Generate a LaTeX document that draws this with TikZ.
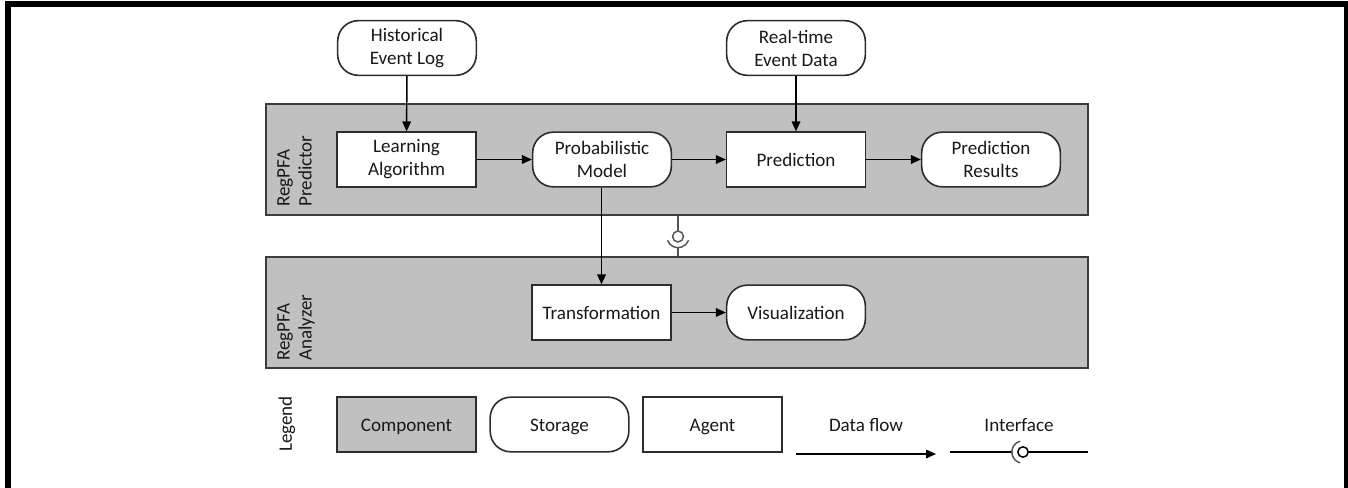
\documentclass[tikz,border=0pt]{standalone}
\usepackage{fontspec}
\setmainfont{Carlito}
\usetikzlibrary{arrows.meta,calc}
\definecolor{panelfill}{RGB}{192,192,192}
\definecolor{panelline}{RGB}{60,60,60}
\definecolor{boxline}{RGB}{45,45,45}
\definecolor{textc}{RGB}{25,25,25}
\definecolor{ifcol}{RGB}{85,85,85}
\newcommand\oneln[1]{\raisebox{-1.6pt}[12pt][5pt]{#1}}
\tikzset{
  x=0.75pt, y=-0.75pt,
  every node/.style={font=\fontsize{14.3}{17.3}\selectfont, text=textc},
  agentbox/.style={draw=boxline, fill=white, line width=1.2pt, minimum width=104pt, minimum height=41pt, align=center, inner sep=0pt},
  storebox/.style={agentbox, rounded corners=15.5pt},
  compbox/.style={agentbox, fill=panelfill},
  panel/.style={draw=panelline, fill=panelfill, line width=1.5pt, minimum width=616.5pt, minimum height=83.25pt, inner sep=0pt},
  paneltitle/.style={rotate=90, anchor=north west, align=left, inner sep=0pt, font=\fontsize{14.3}{16.5}\selectfont},
  flow/.style={draw=black, line width=1.1pt, -{Triangle[length=7.5pt,width=6.5pt]}},
  ifl/.style={draw=ifcol, line width=1.1pt},
  legline/.style={draw=black, line width=1.1pt},
}
\begin{document}
\begin{tikzpicture}
\useasboundingbox (0,0) rectangle (1348,488);
\clip (0,0) rectangle (1348,488);
% frame
\draw[line width=4.5pt, black] (8,520) -- (8,4) -- (1347,4) -- (1347,520);

% panels
\node[panel] (pred) at (677,159.5) {};
\node[panel] (anal) at (677,312.5) {};
\node[paneltitle] (predt) at (277,207) {RegPFA\\Predictor};
\node[paneltitle] (analt) at (277,361) {RegPFA\\Analyzer};

% sources
\node[storebox] (hist) at (407,48) {Historical\\Event Log};
\node[storebox] (real) at (796,48) {Real-time\\Event Data};

% predictor row
\node[agentbox] (learn) at (406.5,159.5) {Learning\\Algorithm};
\node[storebox] (prob) at (602,159.5) {Probabilistic\\Model};
\node[agentbox] (predict) at (796,159.5) {\oneln{Prediction}};
\node[storebox] (res) at (991,159.5) {Prediction\\Results};

% analyzer row
\node[agentbox] (trans) at (601.5,312.5) {\oneln{Transformation}};
\node[storebox] (vis) at (796,312.5) {\oneln{Visualization}};

% flows
\draw[flow] (hist) -- (learn);
\draw[flow] (real) -- (predict);
\draw[flow] (learn) -- (prob);
\draw[flow] (prob) -- (predict);
\draw[flow] (predict) -- (res);
\draw[flow] (prob.south -| trans.north) -- (trans.north);
\draw[flow] (trans) -- (vis);

% interface between panels
\coordinate (ifc) at (678,236.5);
\draw[ifl] (pred.south -| ifc) -- ([yshift=4.1pt]ifc);
\draw[ifl] (ifc) circle[radius=4.1pt];
\draw[ifl] ([shift={(200:8.4pt)}]ifc) arc[start angle=200, end angle=340, radius=8.4pt];
\draw[ifl] ([yshift=-8.4pt]ifc) -- (anal.north -| ifc);

% legend
\node[rotate=90, inner sep=0pt] (legt) at (287,424) {Legend};
\node[compbox] (lcomp) at (406.5,424.5) {\oneln{Component}};
\node[storebox] (lstore) at (559.5,424.5) {\oneln{Storage}};
\node[agentbox] (lagent) at (712.5,424.5) {\oneln{Agent}};
\node[inner sep=0pt] (ldf) at (866,425) {\oneln{Data flow}};
\coordinate (dfa) at (796,454);
\coordinate (dfb) at (936,454);
\draw[flow] (dfa) -- (dfb);
\node[inner sep=0pt] (lif) at (1019,425) {\oneln{Interface}};
\coordinate (ia) at (950,452);
\coordinate (ib) at (1088,452);
\coordinate (ic) at (1023,452);
\draw[legline] (ia) -- ([xshift=-8.4pt]ic);
\draw[legline] ([xshift=3.9pt]ic) -- (ib);
\draw[ifl, draw=black] (ic) circle[radius=3.9pt];
\draw[ifl, draw=ifcol] ([shift={(105:8.4pt)}]ic) arc[start angle=105, end angle=255, radius=8.4pt];
\end{tikzpicture}
\end{document}
